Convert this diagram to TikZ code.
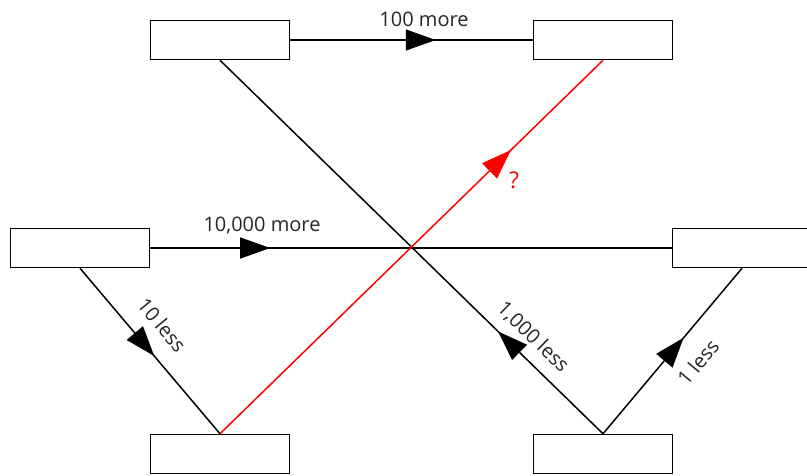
\documentclass[tikz,border=0pt]{standalone}
\usepackage{fontspec}
\setmainfont{Open Sans}
\usetikzlibrary{arrows.meta,decorations.markings}
\begin{document}
\begin{tikzpicture}[x=1pt,y=-1pt,
  box/.style={draw,line width=1.5pt,minimum width=139pt,minimum height=39pt,inner sep=0pt,fill=white},
  conn/.style={line width=1.5pt},
  lbl/.style={font=\fontsize{20}{24}\selectfont,inner sep=0pt,text=black!85},
  markat/.style={postaction={decorate},decoration={markings,mark=at position #1 with {\arrow{Triangle[length=30pt,width=21pt]}}}}]
\useasboundingbox (0,0) rectangle (807,475);
\node[box] (tl) at (220,40) {};
\node[box] (tr) at (603,40) {};
\node[box] (ml) at (80,248) {};
\node[box] (mr) at (742,248) {};
\node[box] (bl) at (220,454) {};
\node[box] (br) at (603,454) {};
% connectors
\draw[conn,markat=0.6] (tl.east) -- (tr.west);
\draw[conn,markat=0.23] (ml.east) -- (mr.west);
\draw[conn,markat=0.53] (ml.south) -- (bl.north);
\draw[conn,markat=0.274] (br.north) -- (tl.south);
\draw[conn,markat=0.58] (br.north) -- (mr.south);
\draw[conn,red,markat=0.76] (bl.north) -- (tr.south);
% labels
\node[lbl] (l100) at (424,19) {100 more};
\node[lbl] (l10000) at (262,226) {10,000 more};
\node[lbl,rotate=-50.6] (l10) at (162,325) {10 less};
\node[lbl,rotate=-44.4] (l1000) at (533,337) {1,000 less};
\node[lbl,rotate=50.4] (l1) at (698,362) {1 less};
\node[lbl,text=red,font=\fontsize{23}{26}\selectfont] (q) at (514,180) {?};
\end{tikzpicture}
\end{document}
